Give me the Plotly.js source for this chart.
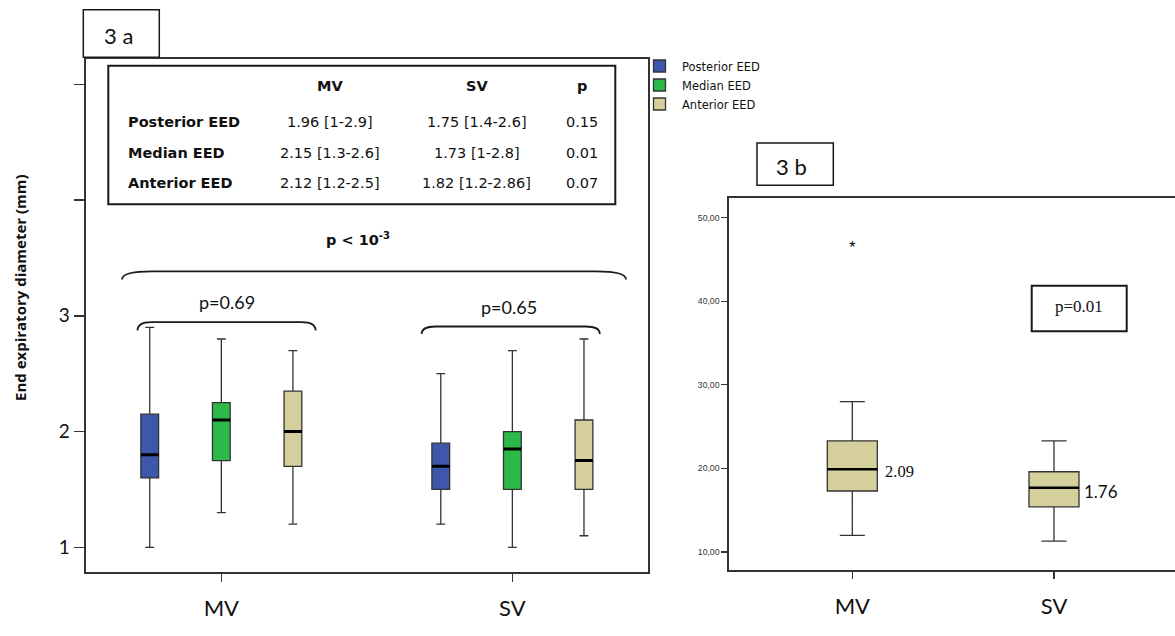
<!DOCTYPE html>
<html><head><meta charset="utf-8">
<script src="https://cdn.plot.ly/plotly-3.0.1.min.js"></script>
<style>html,body{margin:0;padding:0;background:#fff}#chart{width:1175px;height:636px}</style>
</head><body><div id="chart"></div>
<script>
// ---------- data (panel 3a) ----------
const groups = ['MV', 'SV'];
const seriesNames = ['Posterior EED', 'Median EED', 'Anterior EED'];
const seriesColors = ['#3D58AB', '#2DB84A', '#D5D09B'];

const postLow = [1.0, 1.2], postQ1 = [1.6, 1.5], postMed = [1.8, 1.7], postQ3 = [2.15, 1.9], postHigh = [2.9, 2.5];
const medLow  = [1.3, 1.0], medQ1  = [1.75, 1.5], medMed = [2.1, 1.85], medQ3 = [2.25, 2.0], medHigh = [2.8, 2.7];
const antLow  = [1.2, 1.1], antQ1  = [1.7, 1.5], antMed = [2.0, 1.75], antQ3 = [2.35, 2.1], antHigh = [2.7, 2.8];

const yTickVals3a = [1, 2, 3];
const yTickText3a = ['1', '2', '3'];
const yTitle3a = 'End expiratory diameter (mm)';

// table inside panel 3a
const tableCols = ['MV', 'SV', 'p'];
const tableRows = ['Posterior EED', 'Median EED', 'Anterior EED'];
const tableMV = ['1.96 [1-2.9]', '2.15 [1.3-2.6]', '2.12 [1.2-2.5]'];
const tableSV = ['1.75 [1.4-2.6]', '1.73 [1-2.8]', '1.82 [1.2-2.86]'];
const tableP = ['0.15', '0.01', '0.07'];
const pOverall = 'p < 10<sup>-3</sup>';
const pWithin = ['p=0.69', 'p=0.65'];

// ---------- data (panel 3b) ----------
const bLow = [12.0, 11.3], bQ1 = [17.3, 15.4], bMed = [19.9, 17.7], bQ3 = [23.3, 19.6], bHigh = [28.0, 23.3];
const bOutlierX = ['MV'], bOutlierY = [46.2];
const bMedianLabels = ['2.09', '1.76'];
const bTickVals = [10, 20, 30, 40, 50];
const bP = 'p=0.01';
const panelLabels = ['3 a', '3 b'];

// ---------- helpers ----------
const W = 1175, H = 636;
const X = p => p / W, Y = p => 1 - p / H;
const edge = '#333333';

const seriesStats = [
  [postLow, postQ1, postMed, postQ3, postHigh],
  [medLow, medQ1, medMed, medQ3, medHigh],
  [antLow, antQ1, antMed, antQ3, antHigh]
];

const traces = [];
seriesStats.forEach((s, i) => {
  traces.push({
    type: 'box', x: groups, lowerfence: s[0], q1: s[1], median: s[2], q3: s[3], upperfence: s[4],
    name: seriesNames[i], fillcolor: seriesColors[i], line: {color: edge, width: 1.3},
    whiskerwidth: 0.5, boxpoints: false, xaxis: 'x', yaxis: 'y',
    offsetgroup: 'g' + i, alignmentgroup: 'a', showlegend: true, hoverinfo: 'skip'
  });
});
seriesStats.forEach((s, i) => {
  traces.push({
    type: 'box', x: groups, lowerfence: s[2], q1: s[2], median: s[2], q3: s[2], upperfence: s[2],
    name: seriesNames[i] + ' median', fillcolor: 'rgba(0,0,0,0)', line: {color: '#000', width: 3},
    whiskerwidth: 0, boxpoints: false, xaxis: 'x', yaxis: 'y',
    offsetgroup: 'g' + i, alignmentgroup: 'a', showlegend: false, hoverinfo: 'skip'
  });
});
traces.push({
  type: 'box', x: groups, lowerfence: bLow, q1: bQ1, median: bMed, q3: bQ3, upperfence: bHigh,
  name: 'Anterior EED (3b)', fillcolor: seriesColors[2], line: {color: edge, width: 1.3},
  whiskerwidth: 0.5, width: 0.248, boxpoints: false, xaxis: 'x2', yaxis: 'y2',
  offsetgroup: 'b', alignmentgroup: 'b', showlegend: false, hoverinfo: 'skip'
});
traces.push({
  type: 'box', x: groups, lowerfence: bMed, q1: bMed, median: bMed, q3: bMed, upperfence: bMed,
  name: '3b median', fillcolor: 'rgba(0,0,0,0)', line: {color: '#000', width: 2.5},
  whiskerwidth: 0, width: 0.248, boxpoints: false, xaxis: 'x2', yaxis: 'y2',
  offsetgroup: 'b', alignmentgroup: 'b', showlegend: false, hoverinfo: 'skip'
});
traces.push({
  type: 'scatter', mode: 'text', x: bOutlierX, y: bOutlierY, text: bOutlierX.map(() => '*'),
  textposition: 'middle center', textfont: {family: 'Liberation Sans', size: 16, color: '#000'},
  xaxis: 'x2', yaxis: 'y2', showlegend: false, hoverinfo: 'skip'
});

// ---------- annotations ----------
const ann = [];
const tFont = (size, bold, fam, col) => ({family: fam || 'DejaVu Sans', size: size, color: col || '#111', weight: bold ? 'bold' : 'normal'});
const colX = [330, 476.5, 582.4];
const headY = 86, rowY = [122, 153.5, 183.3];
tableCols.forEach((c, j) => ann.push({xref: 'paper', yref: 'paper', x: X(colX[j]), y: Y(headY), text: '<b>' + c + '</b>', showarrow: false, xanchor: 'center', yanchor: 'middle', font: tFont(14.5, true)}));
tableRows.forEach((r, i) => {
  ann.push({xref: 'paper', yref: 'paper', x: X(126), y: Y(rowY[i]), text: '<b>' + r + '</b>', showarrow: false, xanchor: 'left', yanchor: 'middle', font: tFont(14.5, true)});
  [tableMV[i], tableSV[i], tableP[i]].forEach((v, j) => ann.push({xref: 'paper', yref: 'paper', x: X(colX[j]), y: Y(rowY[i]), text: v, showarrow: false, xanchor: 'center', yanchor: 'middle', font: tFont(14.5, false)}));
});
ann.push({xref: 'paper', yref: 'paper', x: X(358), y: Y(239), text: '<b>' + pOverall + '</b>', showarrow: false, xanchor: 'center', yanchor: 'middle', font: tFont(14.5, true)});
ann.push({xref: 'paper', yref: 'paper', x: X(227), y: Y(302), text: pWithin[0], showarrow: false, xanchor: 'center', yanchor: 'middle', font: tFont(18, false, 'Lato', '#111')});
ann.push({xref: 'paper', yref: 'paper', x: X(509), y: Y(306.5), text: pWithin[1], showarrow: false, xanchor: 'center', yanchor: 'middle', font: tFont(18, false, 'Lato', '#111')});
ann.push({xref: 'paper', yref: 'paper', x: X(101.5), y: Y(35), text: panelLabels[0], showarrow: false, xanchor: 'left', yanchor: 'middle', font: tFont(22, false, 'Lato', '#111')});
ann.push({xref: 'paper', yref: 'paper', x: X(792), y: Y(166), text: panelLabels[1], showarrow: false, xanchor: 'center', yanchor: 'middle', font: tFont(22, false, 'Lato', '#111')});
ann.push({xref: 'paper', yref: 'paper', x: X(20), y: Y(288), text: '<b>' + yTitle3a + '</b>', textangle: -90, showarrow: false, xanchor: 'center', yanchor: 'middle', font: tFont(15, true, 'Open Sans', '#111')});
ann.push({xref: 'paper', yref: 'paper', x: X(883), y: Y(471.5), text: bMedianLabels[0], showarrow: false, xanchor: 'left', yanchor: 'middle', font: tFont(16.5, false, 'Liberation Serif', '#111')});
ann.push({xref: 'paper', yref: 'paper', x: X(1082), y: Y(491.5), text: bMedianLabels[1], showarrow: false, xanchor: 'left', yanchor: 'middle', font: tFont(17, false, 'Lato', '#111')});
ann.push({xref: 'paper', yref: 'paper', x: X(1079), y: Y(306), text: bP, showarrow: false, xanchor: 'center', yanchor: 'middle', font: tFont(17, false, 'Liberation Serif', '#111')});

// ---------- decorative shapes (boxes, braces) ----------
const rect = (x0, y0, x1, y1, w) => ({type: 'rect', xref: 'paper', yref: 'paper', x0: X(x0), x1: X(x1), y0: Y(y0), y1: Y(y1), line: {color: '#1a1a1a', width: w}, fillcolor: 'rgba(0,0,0,0)'});
const brace = (x0, x1, yTop, yEnd, r) => ({type: 'path', xref: 'paper', yref: 'paper', line: {color: '#1a1a1a', width: 1.8},
  path: `M${X(x0)},${Y(yEnd)} Q${X(x0)},${Y(yTop)} ${X(x0 + r)},${Y(yTop)} L${X(x1 - r)},${Y(yTop)} Q${X(x1)},${Y(yTop)} ${X(x1)},${Y(yEnd)}`});
const shapes = [
  rect(108.3, 65.7, 615.3, 204.2, 2),
  rect(83.3, 9.7, 159.3, 57.3, 1.5),
  rect(757, 143, 833.3, 185.3, 1.5),
  rect(1031.7, 285.7, 1126.7, 331.3, 2),
  brace(122, 626, 271.4, 279.5, 30),
  brace(137.5, 315.6, 322.1, 330.5, 14),
  brace(421.7, 599.8, 326.5, 334, 14)
];

const layout = {
  width: W, height: H, margin: {l: 0, r: 0, t: 0, b: 0},
  paper_bgcolor: '#fff', plot_bgcolor: '#fff',
  separators: ',.',
  boxmode: 'group', boxgap: 0.262, boxgroupgap: 0.752,
  showlegend: true,
  legend: {x: X(637), y: Y(51.5), xanchor: 'left', yanchor: 'top', font: {family: 'DejaVu Sans', size: 11.5, color: '#111'},
    bgcolor: 'rgba(0,0,0,0)', tracegroupgap: 0, itemwidth: 35},
  xaxis: {domain: [X(85.7), X(648)], anchor: 'y', type: 'category', range: [-0.466, 1.466],
    showline: true, linecolor: edge, linewidth: 2, mirror: true, ticks: 'outside', ticklen: 8, tickwidth: 1.5, tickcolor: edge,
    tickfont: {family: 'Lato', size: 22, color: '#111'}, ticklabelstandoff: 8, showgrid: false, zeroline: false, automargin: false, fixedrange: true},
  yaxis: {domain: [Y(572), Y(58.5)], anchor: 'x', range: [0.787, 5.223], tickvals: yTickVals3a, ticktext: yTickText3a,
    showline: true, linecolor: edge, linewidth: 2, mirror: true, ticks: 'outside', ticklen: 10, tickwidth: 1.5, tickcolor: edge,
    minor: {dtick: 1, tick0: 0, ticks: 'outside', ticklen: 10, tickwidth: 1.5, tickcolor: edge, showgrid: false},
    tickfont: {family: 'Lato', size: 19, color: '#111'}, showgrid: false, zeroline: false, automargin: false, fixedrange: true},
  xaxis2: {domain: [X(729.3), 1], anchor: 'y2', type: 'category', range: [-0.61, 1.6],
    showline: true, linecolor: edge, linewidth: 2, mirror: true, ticks: 'outside', ticklen: 7, tickwidth: 1.3, tickcolor: edge,
    tickfont: {family: 'Lato', size: 22, color: '#111'}, ticklabelstandoff: 8, showgrid: false, zeroline: false, automargin: false, fixedrange: true},
  yaxis2: {domain: [Y(570.3), Y(198.3)], anchor: 'x2', range: [7.81, 52.32], tickvals: bTickVals, tickformat: '.2f',
    showline: true, linecolor: edge, linewidth: 2, mirror: true, ticks: 'outside', ticklen: 6, tickwidth: 1.3, tickcolor: edge,
    tickfont: {family: 'Liberation Sans', size: 8.7, color: '#333'}, showgrid: false, zeroline: false, automargin: false, fixedrange: true},
  annotations: ann,
  shapes: shapes
};

Plotly.newPlot('chart', traces, layout, {staticPlot: true, displayModeBar: false});
</script>
</body></html>
